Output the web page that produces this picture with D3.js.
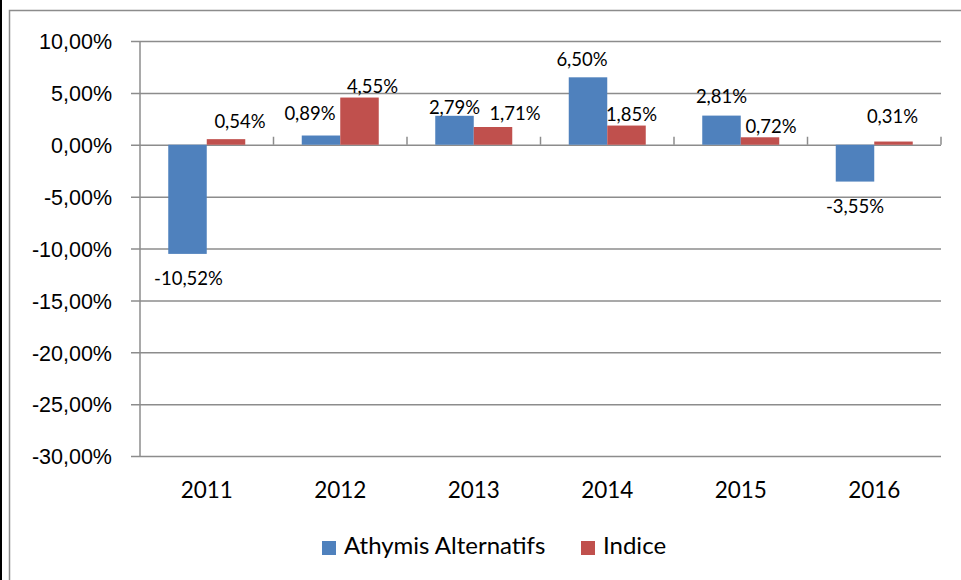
<!DOCTYPE html>
<html>
<head>
<meta charset="utf-8">
<script src="https://cdn.jsdelivr.net/npm/d3@7"></script>
<style>
  html, body { margin: 0; padding: 0; background: #fff; }
  svg { display: block; font-family: Lato, "Open Sans", sans-serif; }
</style>
</head>
<body>
<svg id="chart" width="961" height="580"></svg>
<script>
// ---- data ----
const categories = ["2011", "2012", "2013", "2014", "2015", "2016"];
const seriesNames = ["Athymis Alternatifs", "Indice"];
const athymis = [-10.52, 0.89, 2.79, 6.50, 2.81, -3.55];
const indice = [0.54, 4.55, 1.71, 1.85, 0.72, 0.31];
const yTicks = [10, 5, 0, -5, -10, -15, -20, -25, -30];

// ---- manual label placement (as in the reference) ----
const labelDx = [[1, -11, 0, -6, 0, 0], [14, 13, 22, 5, 11, -1]];
const labelDy = [[31, -15.5, -2, -11, -12.5, 31.5], [-11, -4.5, -7, -4.6, -4.3, -18.5]];

const colors = ["#4F81BD", "#C0504D"];
const gridColor = "#8C8C8C";

const locale = d3.formatLocale({decimal: ",", thousands: " ", grouping: [3], currency: ["", "€"], minus: "-"});
const fmt = v => locale.format(".2f")(v) + "%";

const svg = d3.select("#chart");

// frame
svg.append("line").attr("x1", 1).attr("x2", 1).attr("y1", 0).attr("y2", 580)
  .attr("stroke", "#000").attr("stroke-width", 2);
svg.append("path").attr("d", "M9.5,580V10.5H961")
  .attr("fill", "none").attr("stroke", "#8C8C8C").attr("stroke-width", 1.5);

const pLeft = 140, pRight = 941, pTop = 41, pBottom = 456;

const x0 = d3.scaleBand().domain(categories).range([pLeft, pRight])
  .paddingInner(0.4232).paddingOuter(0.2116);
const x1 = d3.scaleBand().domain([0, 1]).range([0, x0.bandwidth()]).padding(0);
const y = d3.scaleLinear().domain([-30, 10]).range([pBottom, pTop]);

// gridlines + y-axis
const yAxis = d3.axisLeft(y).tickValues(yTicks).tickSize(pRight - pLeft + 9).tickFormat(fmt).tickPadding(0);
const gy = svg.append("g").attr("transform", `translate(${pRight},0)`).call(yAxis);
gy.select(".domain").remove();
gy.selectAll(".tick line").attr("stroke", gridColor).attr("stroke-width", 1.5);
gy.selectAll(".tick text").attr("x", -(pRight - 112)).attr("dy", "0.36em")
  .attr("font-size", 21.5).attr("fill", "#000").attr("text-anchor", "end");

// vertical axis line
svg.append("line").attr("x1", pLeft).attr("x2", pLeft).attr("y1", pTop).attr("y2", pBottom)
  .attr("stroke", gridColor).attr("stroke-width", 1.5);

// category tick marks on zero line (pointing up)
const bounds = categories.map((c, i) => pLeft + x0.step() * (i + 1));
svg.append("g").selectAll("line").data(bounds).join("line")
  .attr("x1", d => d).attr("x2", d => d).attr("y1", y(0) - 8).attr("y2", y(0))
  .attr("stroke", gridColor).attr("stroke-width", 1.5);

// x labels
svg.append("g").selectAll("text").data(categories).join("text")
  .attr("x", d => x0(d) + x0.bandwidth() / 2).attr("y", 498)
  .attr("text-anchor", "middle").attr("font-size", 22.5).attr("fill", "#000")
  .text(d => d);

// bars
const series = [athymis, indice];
series.forEach((vals, si) => {
  const g = svg.append("g");
  g.selectAll("rect").data(vals).join("rect")
    .attr("x", (d, i) => x0(categories[i]) + x1(si))
    .attr("width", x1.bandwidth())
    .attr("y", d => y(Math.max(0, d)))
    .attr("height", d => Math.abs(y(d) - y(0)))
    .attr("fill", colors[si]);
  g.selectAll("text").data(vals).join("text")
    .attr("x", (d, i) => x0(categories[i]) + x1(si) + x1.bandwidth() / 2 + labelDx[si][i])
    .attr("y", (d, i) => y(d) + labelDy[si][i])
    .attr("text-anchor", "middle").attr("font-size", 18.5).attr("fill", "#000")
    .text(d => fmt(d));
});

// legend
const legend = svg.append("g");
const legX = [322, 581];
seriesNames.forEach((name, i) => {
  legend.append("rect").attr("x", legX[i]).attr("y", 541).attr("width", 14).attr("height", 14).attr("fill", colors[i]);
  legend.append("text").attr("x", legX[i] + 22).attr("y", 554).attr("font-size", 24).attr("fill", "#000").text(name);
});
</script>
</body>
</html>
